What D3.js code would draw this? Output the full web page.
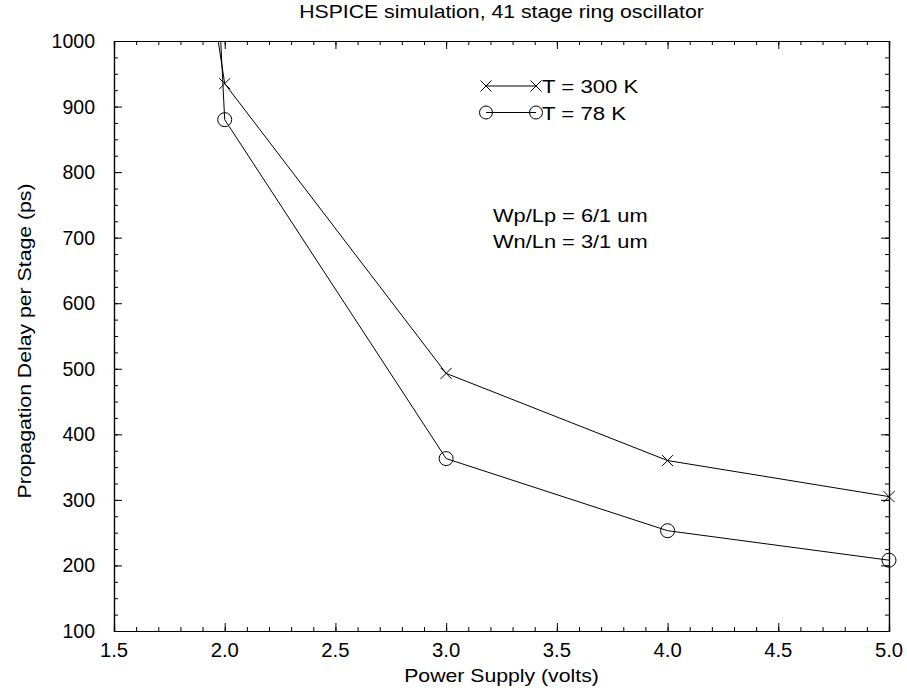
<!DOCTYPE html>
<html>
<head>
<meta charset="utf-8">
<script src="https://cdn.jsdelivr.net/npm/d3@7"></script>
<style>
  body { margin: 0; background: #fff; }
  text { font-family: "Liberation Sans", Arial, Helvetica, sans-serif; fill: #000; }
</style>
</head>
<body>
<div id="chart"></div>
<script>
'use strict';

// supply voltages (the 1.5 V points are far above the plot and get clipped)
const volts = [1.5, 2.0, 3.0, 4.0, 5.0];
const delay300K = [2040, 935, 493, 360, 305];
const delay78K = [4200, 880, 363, 253, 208];

const xTicks = [1.5, 2.0, 2.5, 3.0, 3.5, 4.0, 4.5, 5.0];
const yTicks = [100, 200, 300, 400, 500, 600, 700, 800, 900, 1000];

const titleText = 'HSPICE simulation, 41 stage ring oscillator';
const xLabel = 'Power Supply (volts)';
const yLabel = 'Propagation Delay per Stage (ps)';
const legendLabels = ['T = 300 K', 'T = 78 K'];
const noteLines = ['Wp/Lp = 6/1 um', 'Wn/Ln = 3/1 um'];

const width = 907;
const height = 694;
const margin = {top: 41, right: 18, bottom: 63, left: 114};

const x = d3.scaleLinear().domain([1.5, 5.0]).range([margin.left, width - margin.right]);
const y = d3.scaleLinear().domain([100, 1000]).range([height - margin.bottom, margin.top]);

const svg = d3.select('#chart').append('svg')
  .attr('width', width)
  .attr('height', height);

svg.append('defs').append('clipPath').attr('id', 'plot-clip')
  .append('rect')
  .attr('x', x(1.5)).attr('y', y(1000))
  .attr('width', x(5.0) - x(1.5)).attr('height', y(100) - y(1000));

// text helper, the reference font is drawn a bit wider than it is tall
const addText = function(g, str, tx, ty, anchor, size, sx, rot) {
  return g.append('text')
    .attr('transform', `translate(${tx},${ty})` + (rot ? ` rotate(${rot})` : '') + ` scale(${sx},1)`)
    .attr('text-anchor', anchor)
    .style('font-size', size + 'px')
    .text(str);
};

// ticks on all four sides, pointing inward
const minorX = d3.range(15, 51).map(d => d / 10);
const minorY = d3.range(100, 1001, 25);

const axisG = svg.append('g').attr('class', 'axes');

axisG.append('g')
  .attr('transform', `translate(0,${y(100)})`)
  .call(d3.axisBottom(x).tickValues(minorX).tickSize(-4).tickFormat(''));
axisG.append('g')
  .attr('transform', `translate(0,${y(100)})`)
  .call(d3.axisBottom(x).tickValues(xTicks).tickSize(-8).tickFormat(''));
axisG.append('g')
  .attr('transform', `translate(0,${y(1000)})`)
  .call(d3.axisTop(x).tickValues(minorX).tickSize(-4).tickFormat(''));
axisG.append('g')
  .attr('transform', `translate(0,${y(1000)})`)
  .call(d3.axisTop(x).tickValues(xTicks).tickSize(-8).tickFormat(''));

axisG.append('g')
  .attr('transform', `translate(${x(1.5)},0)`)
  .call(d3.axisLeft(y).tickValues(minorY).tickSize(-4).tickFormat(''));
axisG.append('g')
  .attr('transform', `translate(${x(1.5)},0)`)
  .call(d3.axisLeft(y).tickValues(yTicks).tickSize(-8).tickFormat(''));
axisG.append('g')
  .attr('transform', `translate(${x(5.0)},0)`)
  .call(d3.axisRight(y).tickValues(minorY).tickSize(-4).tickFormat(''));
axisG.append('g')
  .attr('transform', `translate(${x(5.0)},0)`)
  .call(d3.axisRight(y).tickValues(yTicks).tickSize(-8).tickFormat(''));

axisG.selectAll('.domain').attr('stroke', '#000').attr('stroke-width', 1.2);
axisG.selectAll('.tick line').attr('stroke', '#000').attr('stroke-width', 1);

// tick labels
const labelG = svg.append('g');
xTicks.forEach(v => addText(labelG, d3.format('.1f')(v), x(v), y(100) + 26, 'middle', 19.5, 1.04));
yTicks.forEach(v => addText(labelG, String(v), x(1.5) - 19, y(v) + 7, 'end', 19.5, 1.0));

// titles
addText(svg, titleText, (x(1.5) + x(5.0)) / 2, 18, 'middle', 18, 1.18);
addText(svg, xLabel, (x(1.5) + x(5.0)) / 2, 682, 'middle', 18, 1.18);
addText(svg, yLabel, 31, (y(100) + y(1000)) / 2 + 5, 'middle', 18, 1.18, -90);

// series
const line = d3.line().x(d => x(d[0])).y(d => y(d[1]));
const pts300 = volts.map((v, i) => [v, delay300K[i]]);
const pts78 = volts.map((v, i) => [v, delay78K[i]]);

const plotG = svg.append('g').attr('clip-path', 'url(#plot-clip)');

plotG.append('path').datum(pts300)
  .attr('d', line).attr('fill', 'none').attr('stroke', '#000').attr('stroke-width', 1);
plotG.append('path').datum(pts78)
  .attr('d', line).attr('fill', 'none').attr('stroke', '#000').attr('stroke-width', 1);

const crossPath = function(cx, cy, s) {
  return `M${cx - s},${cy - s}L${cx + s},${cy + s}M${cx - s},${cy + s}L${cx + s},${cy - s}`;
};

// markers only for points inside the y range, drawn unclipped
svg.selectAll('path.cross').data(pts300.filter(d => d[1] <= 1000))
  .enter().append('path')
  .attr('class', 'cross')
  .attr('d', d => crossPath(x(d[0]), y(d[1]), 5.5))
  .attr('stroke', '#000').attr('stroke-width', 1);

svg.selectAll('circle.pt').data(pts78.filter(d => d[1] <= 1000))
  .enter().append('circle')
  .attr('class', 'pt')
  .attr('cx', d => x(d[0]))
  .attr('cy', d => y(d[1]))
  .attr('r', 7)
  .attr('fill', 'none')
  .attr('stroke', '#000').attr('stroke-width', 1);

// legend
const legG = svg.append('g');
const legX1 = 486, legX2 = 536, legRows = [86, 112.5];

legG.append('line')
  .attr('x1', legX1).attr('x2', legX2).attr('y1', legRows[0]).attr('y2', legRows[0])
  .attr('stroke', '#000');
[legX1, legX2].forEach(lx => legG.append('path')
  .attr('d', crossPath(lx, legRows[0], 5.5)).attr('stroke', '#000'));

legG.append('line')
  .attr('x1', legX1).attr('x2', legX2).attr('y1', legRows[1]).attr('y2', legRows[1])
  .attr('stroke', '#000');
[legX1, legX2].forEach(lx => legG.append('circle')
  .attr('cx', lx).attr('cy', legRows[1]).attr('r', 6.5)
  .attr('fill', 'none').attr('stroke', '#000'));

legendLabels.forEach((t, i) => addText(legG, t, 542, legRows[i] + 7, 'start', 18.5, 1.2));

// device sizes note
noteLines.forEach((t, i) => addText(svg, t, 493, 222 + i * 26, 'start', 18.5, 1.18));
</script>
</body>
</html>
